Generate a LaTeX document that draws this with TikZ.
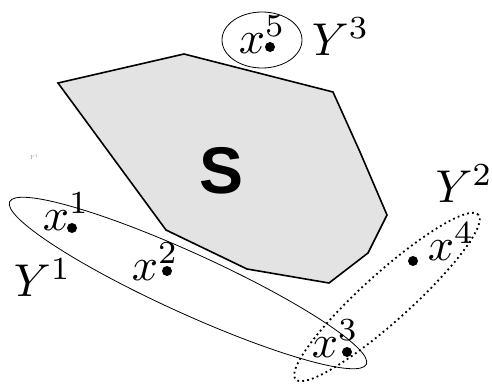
\documentclass[tikz,border=0pt]{standalone}
\usepackage{fontspec}
\newfontfamily\bigsans{Liberation Sans}
\tikzset{
  region/.style ={draw=black, line width=1.6pt, fill=black!11, line join=miter},
  cover/.style  ={draw=black, line width=0.8pt},
  coverD/.style ={draw=black, line width=1.8pt, dash pattern=on 1.8pt off 3.2pt},
  lbl/.style    ={anchor=base west, scale=4.6, inner sep=0pt},
  dot/.style    ={circle, fill=black, inner sep=0pt, minimum size=10pt},
}

\begin{document}
\begin{tikzpicture}[x=1pt, y=-1pt]
  \useasboundingbox (0,0) rectangle (492,388);
  % the set S
  \draw[region] (58,83) -- (184,54) -- (333,92) -- (360,152) -- (387,215)
    -- (368,253) -- (329,283) -- (247,269) -- (166,230) -- cycle;
  \node[inner sep=0pt, font=\bigsans\bfseries\fontsize{66}{70}\selectfont] (S) at (222,171) {S};
  % covers
  \draw[cover]  (188,283) ellipse [x radius=196pt, y radius=30pt, rotate=-24.5];
  \draw[coverD] (387,297) ellipse [x radius=123pt, y radius=24pt, rotate=42];
  \draw[cover]  (262,40)  ellipse [x radius=40pt, y radius=28pt];
  % points
  \node[dot] (p1) at (72,228) {};
  \node[dot] (p2) at (167,271) {};
  \node[dot] (p3) at (347,352) {};
  \node[dot] (p4) at (413,261) {};
  \node[dot] (p5) at (270,47) {};
  \node[lbl] (x1) at (42,230)  {$x^1$};
  \node[lbl] (x2) at (131,280) {$x^2$};
  \node[lbl] (x3) at (311,357) {$x^3$};
  \node[lbl] (x4) at (427,260) {$x^4$};
  \node[lbl] (x5) at (238,53)  {$x^5$};
  \node[lbl] (Y1) at (13,296)  {$Y^1$};
  \node[lbl, anchor=base east] (Y2) at (494,202) {$Y^2$};
  \node[lbl] (Y3) at (311,55)  {$Y^3$};
  \node[inner sep=0pt, scale=0.6, text=black!50] (y1s) at (34,157) {$Y^1$};
\end{tikzpicture}
\end{document}
